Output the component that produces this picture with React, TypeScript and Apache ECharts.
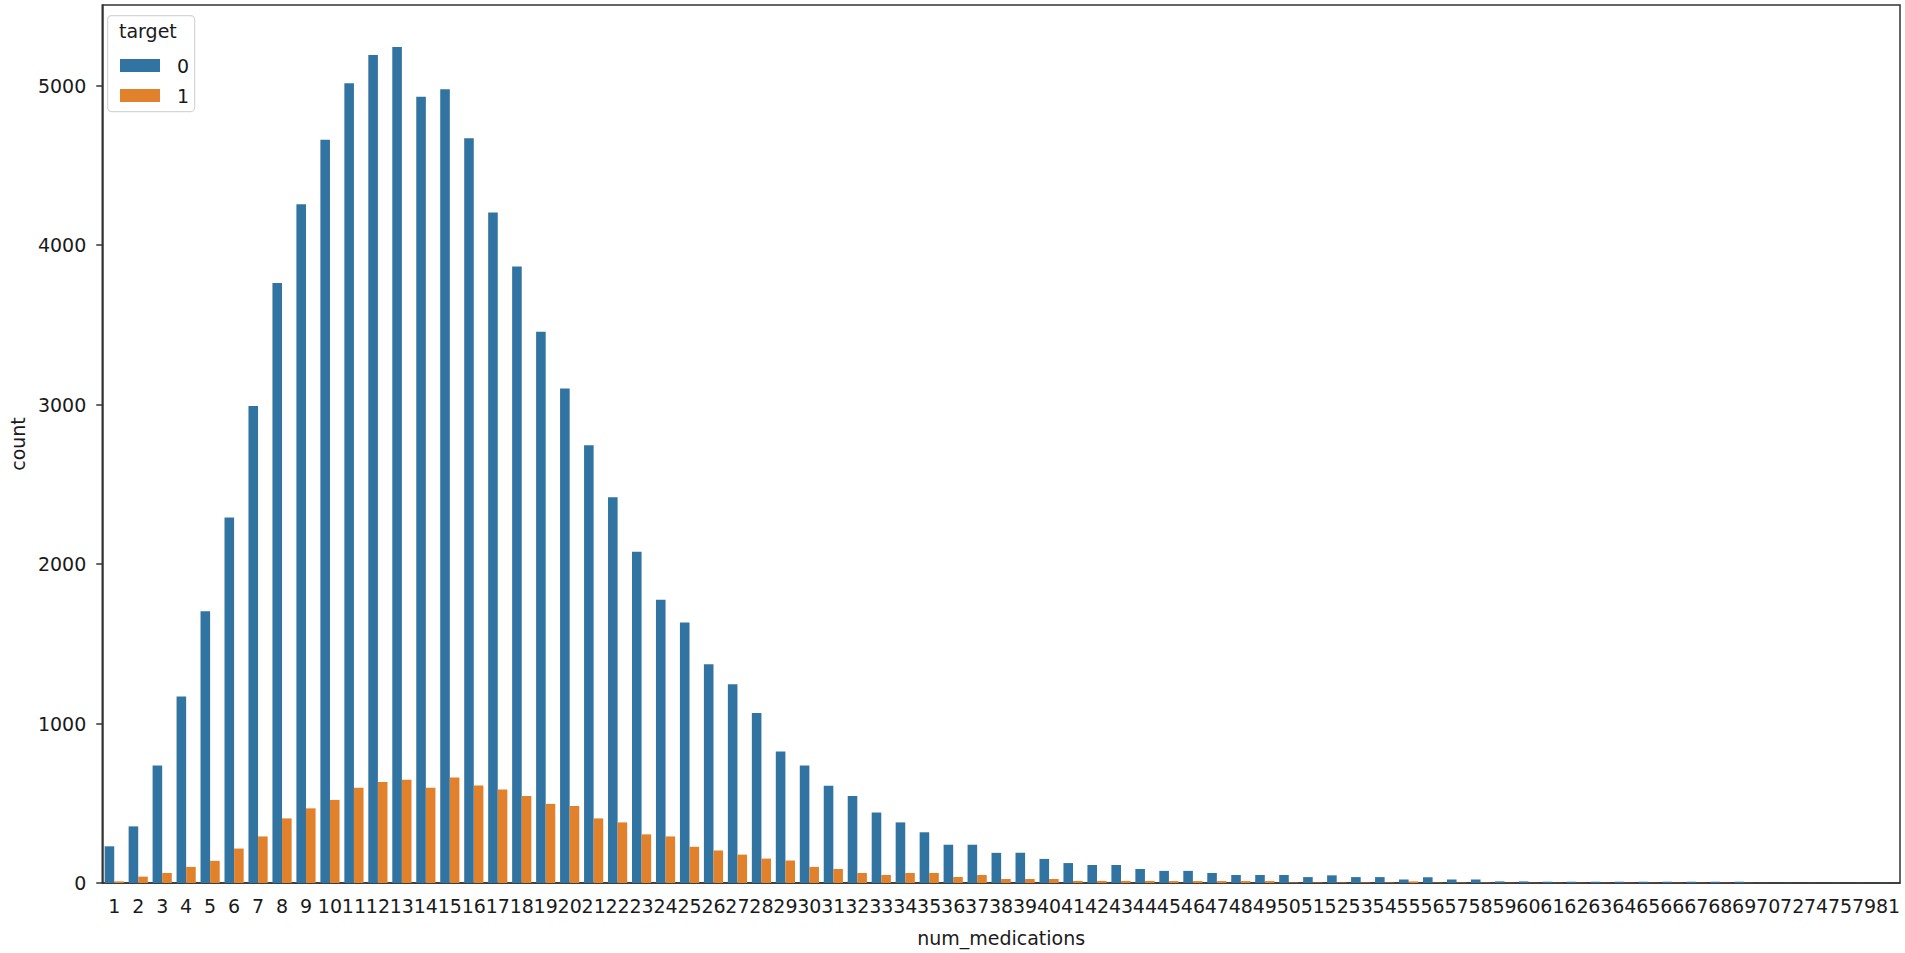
import React, { useEffect, useRef } from "react";
import * as echarts from "echarts";

const categories = [
  "1","2","3","4","5","6","7","8","9","10","11","12","13","14","15","16","17","18","19","20",
  "21","22","23","24","25","26","27","28","29","30","31","32","33","34","35","36","37","38","39","40",
  "41","42","43","44","45","46","47","48","49","50","51","52","53","54","55","56","57","58","59","60",
  "61","62","63","64","65","66","67","68","69","70","72","74","75","79","81",
];

const target0 = [
  230, 355, 737, 1170, 1704, 2291, 2991, 3762, 4255, 4660, 5015, 5191, 5241, 4930, 4977, 4670, 4204, 3865, 3456, 3101,
  2745, 2418, 2077, 1776, 1634, 1372, 1246, 1066, 825, 737, 609, 546, 442, 380, 318, 240, 240, 189, 189, 151,
  125, 113, 113, 88, 76, 76, 63, 50, 50, 50, 37, 48, 37, 37, 22, 36, 22, 22, 10, 10,
  8, 8, 8, 8, 8, 8, 8, 8, 8, 1, 1, 1, 1, 1, 1,
];

const target1 = [
  10, 40, 63, 101, 139, 216, 292, 405, 468, 521, 597, 634, 647, 597, 662, 611, 586, 546, 496, 483,
  405, 380, 305, 292, 227, 204, 178, 153, 141, 101, 88, 63, 50, 63, 63, 38, 50, 25, 25, 25,
  13, 13, 13, 13, 12, 12, 12, 12, 12, 3, 3, 3, 3, 3, 10, 2, 2, 2, 1, 1,
  1, 1, 1, 1, 1, 1, 1, 1, 1, 0, 0, 0, 0, 0, 0,
];

const yTicks = [0, 1000, 2000, 3000, 4000, 5000];
const seriesNames = ["0", "1"];
const colors = ["#3274a1", "#e1812c"];

const FONT = "DejaVu Sans";
const TXT = "#1a1a1a";
const FS = 19;

export default function App() {
  const ref = useRef<HTMLDivElement>(null);
  useEffect(() => {
    if (!ref.current) return;
    const chart = echarts.init(ref.current, undefined, { renderer: "svg" });
    chart.setOption({
      animation: false,
      backgroundColor: "#fff",
      textStyle: { fontFamily: FONT, color: TXT },
      grid: {
        left: 97,
        right: 5,
        top: 5,
        bottom: 70,
        show: true,
        borderColor: "#333",
        borderWidth: 1.5,
        backgroundColor: "transparent",
      },
      legend: {
        orient: "vertical",
        left: 115,
        top: 51,
        z: 20,
        icon: "rect",
        itemWidth: 40,
        itemHeight: 13,
        itemGap: 11,
        data: seriesNames,
        textStyle: { fontFamily: FONT, fontSize: FS, color: TXT, padding: [0, 0, 0, 12] },
        selectedMode: false,
      },
      graphic: [
        {
          type: "rect",
          left: 107,
          top: 15,
          shape: { width: 87, height: 96, r: 4 },
          style: { fill: "rgba(255,255,255,0.8)", stroke: "#d5d5d5", lineWidth: 1.2 },
          z: 3,
        },
        {
          type: "text",
          left: 119,
          top: 21,
          style: { text: "target", fontFamily: FONT, fontSize: FS, fill: TXT },
          z: 21,
        },
      ],
      xAxis: {
        type: "category",
        data: categories,
        name: "num_medications",
        nameLocation: "middle",
        nameGap: 45,
        nameTextStyle: { fontFamily: FONT, fontSize: FS, color: TXT },
        axisLine: { lineStyle: { color: "#333", width: 1.5 } },
        axisTick: { alignWithLabel: true, interval: 0, length: 6, lineStyle: { color: "#333", width: 1.5 } },
        axisLabel: { interval: 0, margin: 13, fontFamily: FONT, fontSize: FS, color: TXT },
        splitLine: { show: false },
      },
      yAxis: {
        type: "value",
        min: 0,
        max: 5505,
        interval: 1000,
        name: "count",
        nameLocation: "middle",
        nameGap: 73,
        nameTextStyle: { fontFamily: FONT, fontSize: FS, color: TXT },
        axisLine: { show: true, lineStyle: { color: "#333", width: 1.5 } },
        axisTick: { show: true, length: 6, customValues: yTicks, lineStyle: { color: "#333", width: 1.5 } },
        axisLabel: {
          margin: 16,
          fontFamily: FONT,
          fontSize: FS,
          color: TXT,
          customValues: yTicks,
          formatter: (v: number) => String(v),
        },
        splitLine: { show: false },
      },
      series: [
        {
          name: seriesNames[0],
          type: "bar",
          data: target0,
          barGap: "0%",
          barCategoryGap: "20%",
          itemStyle: { color: colors[0] },
        },
        {
          name: seriesNames[1],
          type: "bar",
          data: target1,
          barGap: "0%",
          barCategoryGap: "20%",
          itemStyle: { color: colors[1] },
        },
      ],
    });
    return () => chart.dispose();
  }, []);
  return (
    <div
      ref={ref}
      style={{ position: "absolute", left: 0, top: 0, width: 1905, height: 953, background: "#fff" }}
    />
  );
}
